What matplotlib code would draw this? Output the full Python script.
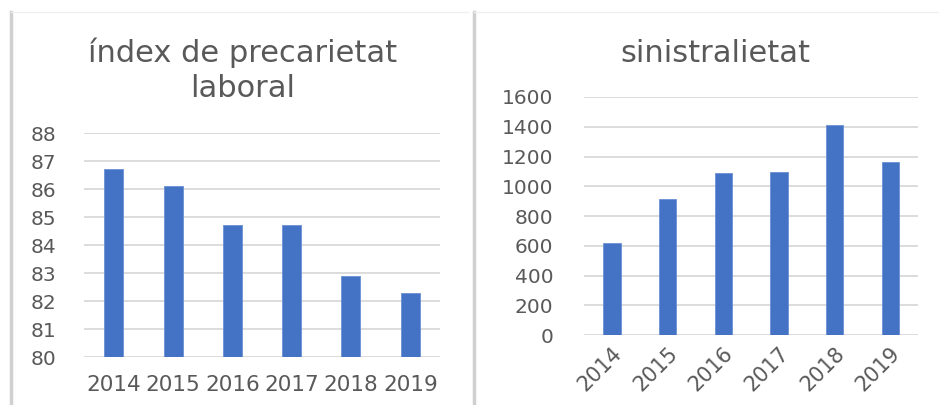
import matplotlib
matplotlib.use("Agg")
import matplotlib.pyplot as plt
from matplotlib.lines import Line2D

years = ["2014", "2015", "2016", "2017", "2018", "2019"]
precarietat = [86.7, 86.1, 84.7, 84.7, 82.9, 82.3]
sinistralitat = [620, 915, 1090, 1095, 1412, 1163]

blue = "#4472C4"
grey_txt = "#595959"
grid_c = "#D9D9D9"

plt.rcParams['font.family'] = ['DejaVu Sans']

fig = plt.figure(figsize=(9.39, 4.05), dpi=100)

# panel frames (grey bars on the left, faint line on top)
for x0, x1 in [(0.0117, 0.498), (0.505, 0.999)]:
    fig.add_artist(Line2D([x0, x0], [0, 0.97], transform=fig.transFigure,
                          color="#D0D0D0", lw=2.5))
    fig.add_artist(Line2D([x0, x1], [0.97, 0.97], transform=fig.transFigure,
                          color="#F0F0F0", lw=1))


def style(ax, yticks):
    for s in ax.spines.values():
        s.set_visible(False)
    ax.set_yticks(yticks)
    ax.grid(axis="y", color=grid_c, lw=1.3)
    ax.set_axisbelow(True)
    ax.tick_params(length=0, colors=grey_txt)
    ax.set_xlim(-0.5, len(years) - 0.5)


# left: index de precarietat laboral
ax1 = fig.add_axes([0.0895, 0.1185, 0.379, 0.553])
ax1.bar(range(len(years)), precarietat, width=0.32, color=blue,
        edgecolor="#6A90D4", linewidth=0.6)
ax1.set_ylim(80, 88)
style(ax1, range(80, 89))
ax1.set_xticks(range(len(years)))
ax1.set_xticklabels(years, fontsize=15.5)
ax1.tick_params(axis="y", labelsize=14.5, pad=20)
ax1.tick_params(axis="x", pad=13)
fig.text(0.258, 0.826, "índex de precarietat\nlaboral", ha="center", va="center",
         fontsize=22, color=grey_txt, linespacing=1.28)

# right: sinistralietat
ax2 = fig.add_axes([0.622, 0.1728, 0.3557, 0.5877])
ax2.bar(range(len(years)), sinistralitat, width=0.31, color=blue,
        edgecolor="#6A90D4", linewidth=0.6)
ax2.set_ylim(0, 1600)
style(ax2, range(0, 1601, 200))
ax2.set_xticks(range(len(years)))
ax2.set_xticklabels(years, fontsize=15, rotation=45, ha="right",
                    rotation_mode="anchor")
ax2.tick_params(axis="y", labelsize=14.5, pad=22)
ax2.tick_params(axis="x", pad=6)
fig.text(0.762, 0.868, "sinistralietat", ha="center", va="center",
         fontsize=22, color=grey_txt)

fig.savefig("out.png", dpi=100, facecolor="white")
